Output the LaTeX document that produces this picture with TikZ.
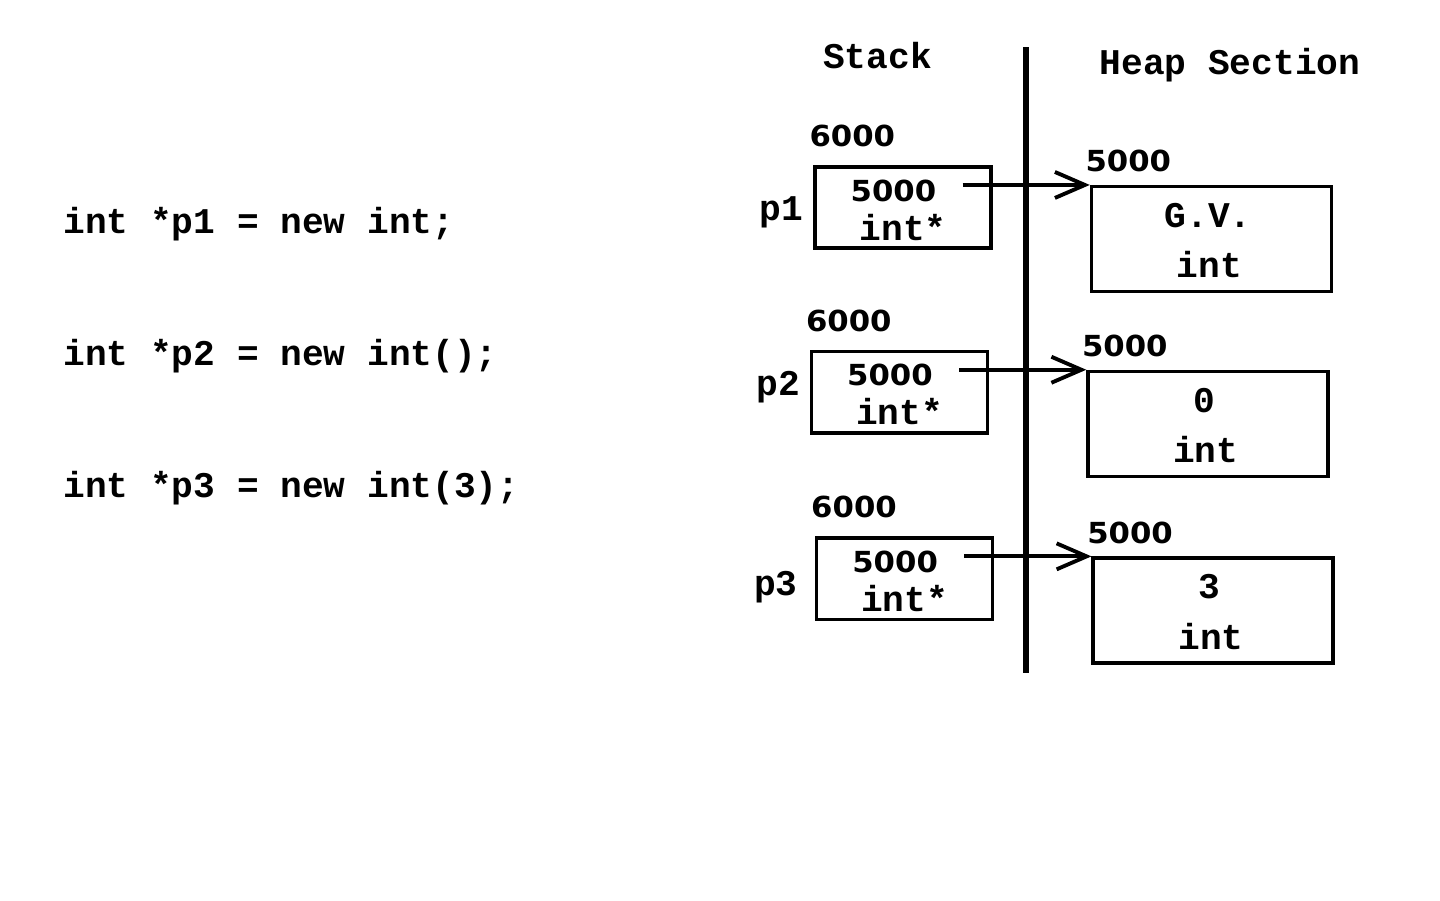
\documentclass[tikz,border=0pt]{standalone}
\usepackage{fontspec}
\newfontfamily\codefont{Liberation Mono}
\newfontfamily\numfont[FakeStretch=1.06]{DejaVu Sans}
\usetikzlibrary{arrows.meta}

\begin{document}
\begin{tikzpicture}[x=0.02cm, y=-0.02cm, >={Straight Barb[length=0.6cm, width=0.52cm]},
    code/.style={font=\codefont\bfseries\fontsize{20.6}{24}\selectfont, inner sep=0pt},
    num/.style={font=\numfont\bfseries\fontsize{16.5}{20}\selectfont, inner sep=0pt},
    stackbox/.style={draw, line width=2pt, minimum width=3.52cm, minimum height=1.63cm, inner sep=0pt},
    heapbox/.style={draw, line width=2pt, minimum width=4.8cm, minimum height=2.1cm, inner sep=0pt},
    ptr/.style={->, line width=2.2pt}]
    \useasboundingbox (0,0) rectangle (1440,900);

    % Source code
    \node[code, anchor=base west] (c1) at (63,233) {int *p1 = new int;};
    \node[code, anchor=base west] (c2) at (63,365) {int *p2 = new int();};
    \node[code, anchor=base west] (c3) at (63,497) {int *p3 = new int(3);};

    % Titles
    \node[code, anchor=base] (stack) at (877.5,68.3) {Stack};
    \node[code, anchor=base] (heap) at (1230,74.3) {Heap Section};

    % Divider
    \coordinate (dtop) at (1026,47);
    \coordinate (dbot) at (1026,673);
    \draw[line width=3pt] (dtop) -- (dbot);

    % One row per pointer
    \foreach \i/\sx/\sy/\val/\px/\py in {1/0/0/G.V./781.7/220, 2/-3.5/184.8/0/782/210.2, 3/1.7/371.4/3/774.2/223.6} {
      \begin{scope}[shift={(\sx,\sy)}]
        % stack cell
        \node[stackbox] (s\i) at (902.8,207.5) {};
        \node[num, anchor=base] (a\i) at (852.3,146.5) {6000};
        \node[code, anchor=base] (p\i) at (\px,\py) {p\i};
        \node[num, anchor=base] (v\i) at (893.4,201) {5000};
        \node[code, anchor=base] (t\i) at (903,240) {int*};
        % heap cell
        \node[heapbox] (h\i) at (1211.5,239.2) {};
        \node[num, anchor=base] (ha\i) at (1128.3,171.7) {5000};
        \node[code, anchor=base] (hv\i) at (1208,227.5) {\val};
        \node[code, anchor=base] (ht\i) at (1209.3,277.6) {int};
        % pointer
        \coordinate (o\i) at ([xshift=0.52cm]v\i.east);
        \draw[ptr] (o\i |- h\i.north west) -- (h\i.north west);
      \end{scope}
    }
\end{tikzpicture}
\end{document}
